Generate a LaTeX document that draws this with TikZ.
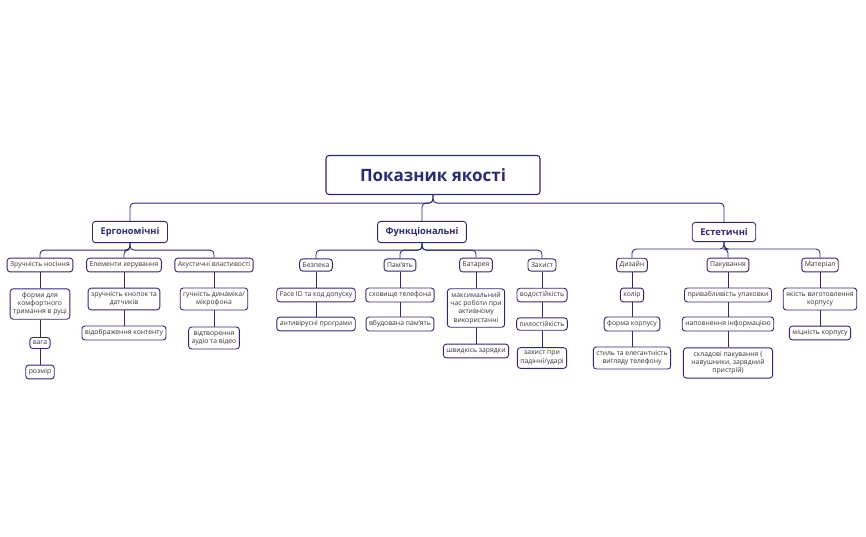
\documentclass[tikz,border=0pt]{standalone}
\usepackage{fontspec}
\setmainfont{Open Sans}
\definecolor{nv}{HTML}{2B2A7A}
\tikzset{
 b/.style={draw=nv,line width=0.9pt,rounded corners=3pt,fill=white,align=center,font=\fontsize{6.8}{8.2}\selectfont,text=black!80,inner xsep=3pt,inner ysep=3.6pt},
 l1/.style={b,font=\fontsize{9.3}{11}\selectfont\bfseries,text=nv,inner xsep=8pt,inner ysep=6pt},
 ln/.style={draw=nv,line width=0.9pt,rounded corners=4pt}
}
\begin{document}
\begin{tikzpicture}[x=1pt,y=-1pt]
\useasboundingbox (0,0) rectangle (866,536);
\node[b,font=\fontsize{17}{20}\selectfont\bfseries,text=nv,minimum width=214,minimum height=39,line width=1.1pt] (root) at (433,175) {Показник якості};
\node[l1] (erg) at (130,232) {Ергономічні};
\node[l1] (fun) at (422,232) {Функціональні};
\node[l1] (est) at (724,232) {Естетичні};
\foreach \c in {erg,fun,est}{\draw[ln] (root.south) -- ++(0,8) -| (\c.north);}
% Ergo
\node[b] (e1) at (40,265) {Зручність носіння};
\node[b] (e2) at (124,265) {Елементи керування};
\node[b] (e3) at (214,265) {Акустичні властивості};
\foreach \c in {e1,e2,e3}{\draw[ln] (erg.south) -- ++(0,7) -| (\c.north);}
\node[b] (e11) at (40,304) {форми для\\комфортного\\тримання в руці};
\node[b] (e12) at (40,343) {вага};
\node[b] (e13) at (40,372) {розмір};
\draw[ln] (e1)--(e11) (e11)--(e12) (e12)--(e13);
\node[b] (e21) at (124,299) {зручність кнопок та\\датчиків};
\node[b] (e22) at (124,333) {відображення контенту};
\draw[ln] (e2)--(e21) (e21)--(e22);
\node[b] (e31) at (214,299) {гучність динаміка/\\мікрофона};
\node[b] (e32) at (214,338) {відтворення\\аудіо та відео};
\draw[ln] (e3)--(e31) (e31)--(e32);
% Func
\node[b] (f1) at (316,265) {Безпека};
\node[b] (f2) at (400,265) {Пам'ять};
\node[b] (f3) at (476,265) {Батарея};
\node[b] (f4) at (542,265) {Захист};
\foreach \c in {f1,f2,f3,f4}{\draw[ln] (fun.south) -- ++(0,7) -| (\c.north);}
\node[b] (f11) at (316,295) {Face ID та код допуску};
\node[b] (f12) at (316,324) {антивірусні програми};
\draw[ln] (f1)--(f11) (f11)--(f12);
\node[b] (f21) at (400,295) {сховище телефона};
\node[b] (f22) at (400,324) {вбудована пам'ять};
\draw[ln] (f2)--(f21) (f21)--(f22);
\node[b] (f31) at (476,308) {максимальний\\час роботи при\\активному\\використанні};
\node[b] (f32) at (476,351) {швидкісь зарядки};
\draw[ln] (f3)--(f31) (f31)--(f32);
\node[b] (f41) at (542,295) {водостійкість};
\node[b] (f42) at (542,324) {пилостійкість};
\node[b] (f43) at (542,358) {захист при\\падінні/ударі};
\draw[ln] (f4)--(f41) (f41)--(f42) (f42)--(f43);
% Est
\node[b] (s1) at (632,265) {Дизайн};
\node[b] (s2) at (728,265) {Пакування};
\node[b] (s3) at (820,265) {Матеріал};
\foreach \c in {s1,s2,s3}{\draw[ln] (est.south) -- ++(0,7) -| (\c.north);}
\node[b] (s11) at (632,295) {колір};
\node[b] (s12) at (632,324) {форма корпусу};
\node[b] (s13) at (632,358) {стиль та елегантність\\вигляду телефону};
\draw[ln] (s1)--(s11) (s11)--(s12) (s12)--(s13);
\node[b] (s21) at (728,295) {привабливість упаковки};
\node[b] (s22) at (728,324) {наповнення інформацією};
\node[b,inner xsep=8pt] (s23) at (728,363) {складові пакування (\\навушники, зарядний\\пристрій)};
\draw[ln] (s2)--(s21) (s21)--(s22) (s22)--(s23);
\node[b] (s31) at (820,299) {якість виготовлення\\корпусу};
\node[b] (s32) at (820,333) {міцність корпусу};
\draw[ln] (s3)--(s31) (s31)--(s32);
\end{tikzpicture}
\end{document}
